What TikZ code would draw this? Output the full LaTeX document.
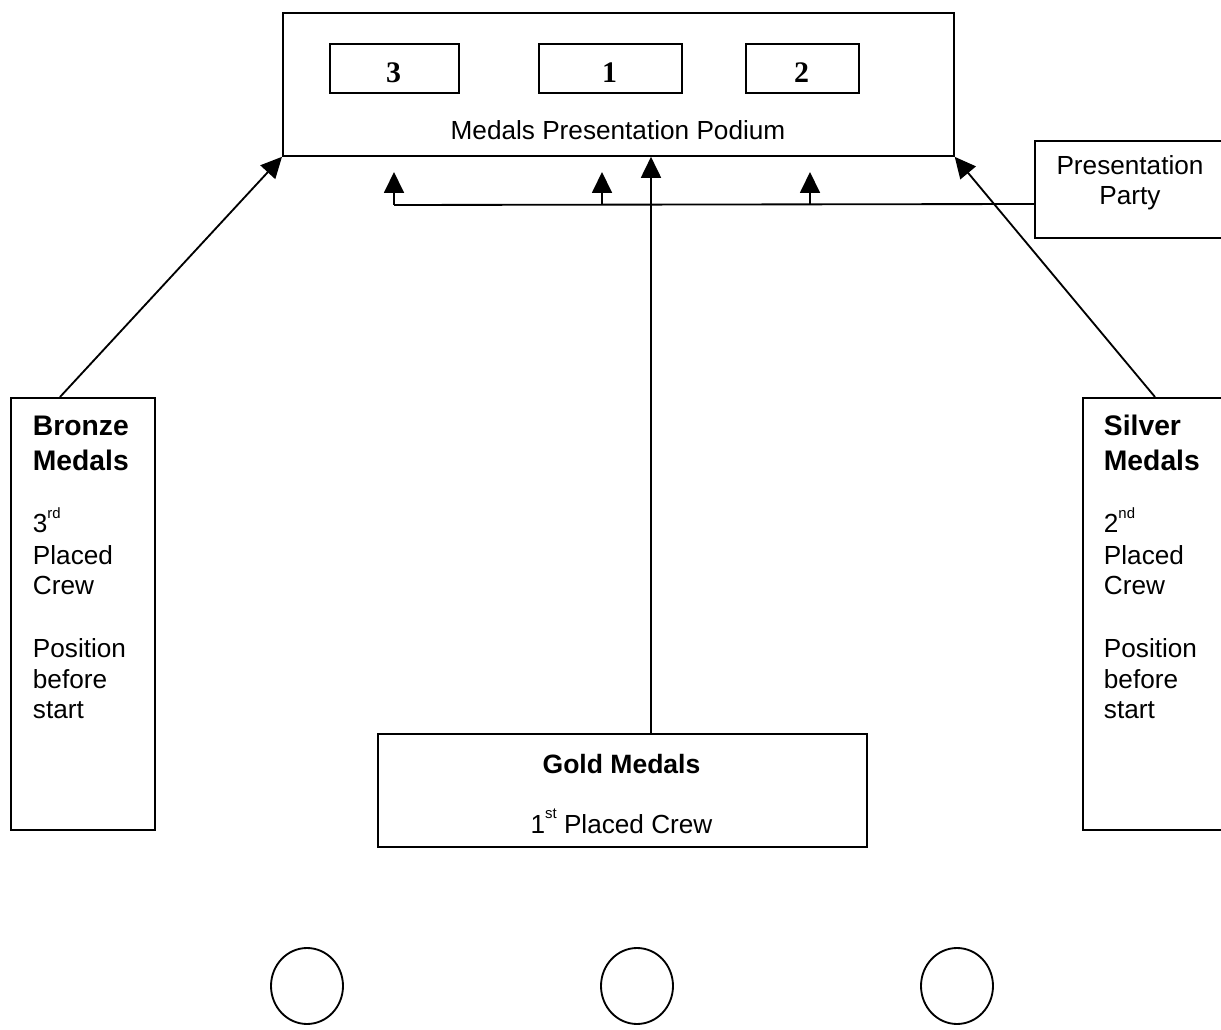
\documentclass[tikz,border=0pt]{standalone}
\usepackage{fontspec}
\setmainfont{Liberation Sans}
\newfontfamily\numserif{Liberation Serif}
\usetikzlibrary{arrows.meta,shapes.geometric}
\newcommand{\supx}[1]{\raisebox{0.55em}{\fontsize{8.5pt}{9pt}\selectfont #1}}
\begin{document}
\begin{tikzpicture}[x=0.02cm,y=-0.02cm,line width=1.05pt,
  >={Triangle[length=0.42cm,width=0.4cm]},
  box/.style={draw,rectangle,inner sep=0pt,anchor=north west},
  reg/.style={inner sep=0pt,font=\fontsize{14.9pt}{17pt}\selectfont},
  bld/.style={inner sep=0pt,font=\fontsize{16.1pt}{18pt}\selectfont\bfseries},
  gbld/.style={inner sep=0pt,font=\fontsize{15.1pt}{18pt}\selectfont\bfseries},
  num/.style={inner sep=0pt,anchor=base,font=\fontsize{17pt}{18pt}\selectfont\numserif\bfseries},
  ring/.style={draw,ellipse,inner sep=0pt,minimum width=1.44cm,minimum height=1.52cm}]
\useasboundingbox (0,0) rectangle (1221,1030);
\clip (0,0) rectangle (1221,1030);

% podium
\node[box,minimum width=13.42cm,minimum height=2.86cm] (podium) at (282,12) {};
\node[box,minimum width=2.58cm,minimum height=0.98cm] (b3) at (329,43) {};
\node[box,minimum width=2.86cm,minimum height=0.98cm] (b1) at (538,43) {};
\node[box,minimum width=2.26cm,minimum height=0.98cm] (b2) at (745,43) {};
\node[num] (n3) at (393.5,83) {3};
\node[num] (n1) at (609.5,83) {1};
\node[num] (n2) at (801.5,83) {2};
\node[reg,anchor=base] (ptitle) at (618,140) {Medals Presentation Podium};

% presentation party
\node[box,minimum width=4.4cm,minimum height=1.94cm] (party) at (1034,140) {};
\node[reg,anchor=base] (pp1) at (1130,175) {Presentation};
\node[reg,anchor=base] (pp2) at (1130,205) {Party};

% bronze
\node[box,minimum width=2.88cm,minimum height=8.64cm] (bronze) at (10,397) {};
\node[bld,anchor=base west] (bz1) at (32,436) {Bronze};
\node[bld,anchor=base west] (bz2) at (32,471) {Medals};
\node[reg,anchor=base west] (bz3) at (32,533) {3\supx{rd}};
\node[reg,anchor=base west] (bz4) at (32,564) {Placed};
\node[reg,anchor=base west] (bz5) at (32,594) {Crew};
\node[reg,anchor=base west] (bz6) at (32,657) {Position};
\node[reg,anchor=base west] (bz7) at (32,688) {before};
\node[reg,anchor=base west] (bz8) at (32,718) {start};

% silver
\node[box,minimum width=3.6cm,minimum height=8.64cm] (silver) at (1082,397) {};
\node[bld,anchor=base west] (sv1) at (1103,436) {Silver};
\node[bld,anchor=base west] (sv2) at (1103,471) {Medals};
\node[reg,anchor=base west] (sv3) at (1103,533) {2\supx{nd}};
\node[reg,anchor=base west] (sv4) at (1103,564) {Placed};
\node[reg,anchor=base west] (sv5) at (1103,594) {Crew};
\node[reg,anchor=base west] (sv6) at (1103,657) {Position};
\node[reg,anchor=base west] (sv7) at (1103,688) {before};
\node[reg,anchor=base west] (sv8) at (1103,718) {start};

% gold
\node[box,minimum width=9.78cm,minimum height=2.26cm] (gold) at (377,733) {};
\node[gbld,anchor=base] (gd1) at (621.5,773) {Gold Medals};
\node[reg,anchor=base] (gd2) at (621.5,833) {1\supx{st} Placed Crew};

% circles
\node[ring] (c1) at (307,986) {};
\node[ring] (c2) at (637,986) {};
\node[ring] (c3) at (957,986) {};

% connector points
\coordinate (bzs) at (60,397);
\coordinate (svs) at (1155,397);
\coordinate (gx) at (651,0);
\coordinate (pl) at (1034,204);
\coordinate (j1) at (394,205);
\coordinate (j2) at (602,205);
\coordinate (j3) at (810,205);
\coordinate (t1) at (394,172);
\coordinate (t2) at (602,172);
\coordinate (t3) at (810,172);

% connectors
\draw[->] (bzs) -- (podium.south west);
\draw[->] (svs) -- (podium.south east);
\draw[->] (gold.north -| gx) -- (podium.south -| gx);
\draw (pl) -- (j1);
\draw[->] (j1) -- (t1);
\draw[->] (j2) -- (t2);
\draw[->] (j3) -- (t3);
\end{tikzpicture}
\end{document}
